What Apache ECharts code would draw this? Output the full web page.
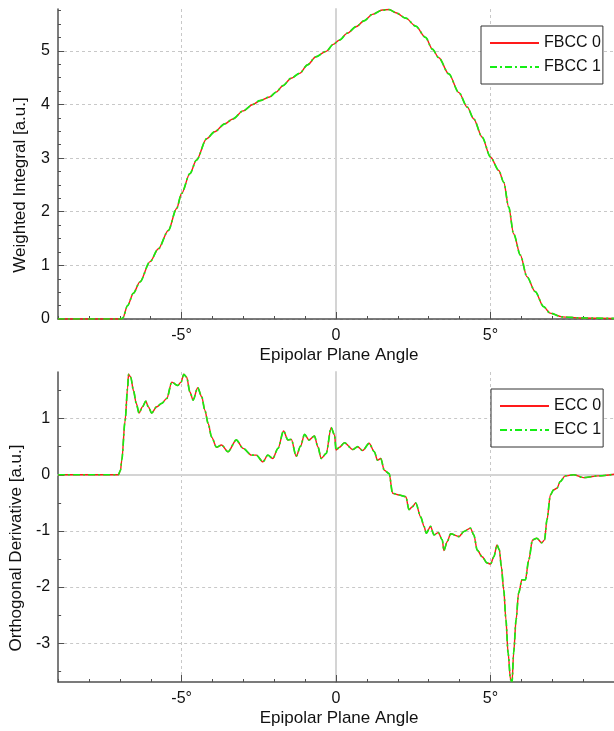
<!DOCTYPE html>
<html><head><meta charset="utf-8">
<script src="https://cdn.jsdelivr.net/npm/echarts@6/dist/echarts.min.js"></script>
<style>html,body{margin:0;padding:0;background:#fff}#c{width:614px;height:731px}</style>
</head><body><div id="c"></div>
<script>
// ---- Data ----
const angleFBCC = [-9, -7.5, -6.95, -6.9, -6.75, -6.56, -6.35, -6.02, -5.75, -5.43, -5.16, -5.0, -4.73, -4.52, -4.19, -3.93, -3.6, -3.34, -3.01, -2.69, -2.47, -2.15, -1.94, -1.72, -1.45, -1.18, -0.92, -0.65, -0.32, -0.09, 0.11, 0.37, 0.65, 0.91, 1.18, 1.5, 1.72, 1.94, 2.26, 2.58, 2.9, 3.12, 3.33, 3.65, 3.98, 4.25, 4.46, 4.73, 5.0, 5.27, 5.43, 5.59, 5.75, 5.97, 6.18, 6.45, 6.72, 6.93, 7.31, 7.95, 9];
const fbcc0 = [0, 0, 0, 0.02, 0.25, 0.48, 0.69, 1.07, 1.31, 1.65, 2.06, 2.34, 2.71, 2.96, 3.36, 3.49, 3.64, 3.73, 3.88, 4.0, 4.07, 4.14, 4.23, 4.35, 4.49, 4.58, 4.74, 4.89, 4.99, 5.12, 5.2, 5.33, 5.45, 5.56, 5.68, 5.76, 5.77, 5.71, 5.61, 5.46, 5.25, 5.03, 4.87, 4.57, 4.22, 3.95, 3.73, 3.39, 3.02, 2.77, 2.55, 2.09, 1.59, 1.19, 0.79, 0.51, 0.23, 0.11, 0.04, 0.02, 0.01];
const fbcc1 = [0, 0, 0, 0.02, 0.25, 0.48, 0.69, 1.07, 1.31, 1.65, 2.06, 2.34, 2.71, 2.96, 3.36, 3.49, 3.64, 3.73, 3.88, 4.0, 4.07, 4.14, 4.23, 4.35, 4.49, 4.58, 4.74, 4.89, 4.99, 5.12, 5.2, 5.33, 5.45, 5.56, 5.68, 5.76, 5.77, 5.71, 5.61, 5.46, 5.25, 5.03, 4.87, 4.57, 4.22, 3.95, 3.73, 3.39, 3.02, 2.77, 2.55, 2.09, 1.59, 1.19, 0.79, 0.51, 0.23, 0.11, 0.04, 0.02, 0.01];

const angleECC = [-9, -7.05, -6.98, -6.94, -6.83, -6.75, -6.72, -6.68, -6.65, -6.56, -6.47, -6.38, -6.27, -6.16, -6.08, -5.97, -5.81, -5.65, -5.48, -5.32, -5.13, -5.02, -4.93, -4.84, -4.73, -4.63, -4.48, -4.35, -4.25, -4.14, -4.03, -3.87, -3.71, -3.5, -3.23, -3.01, -2.74, -2.58, -2.37, -2.21, -2.05, -1.88, -1.7, -1.56, -1.45, -1.29, -1.15, -1.02, -0.88, -0.7, -0.59, -0.48, -0.32, -0.16, -0.05, 0.0, 0.11, 0.27, 0.54, 0.7, 0.86, 1.07, 1.24, 1.34, 1.45, 1.56, 1.72, 1.83, 2.04, 2.26, 2.36, 2.47, 2.58, 2.74, 2.85, 2.92, 3.06, 3.17, 3.31, 3.44, 3.49, 3.6, 3.71, 3.98, 4.14, 4.35, 4.46, 4.57, 4.73, 4.89, 5.0, 5.11, 5.21, 5.29, 5.35, 5.43, 5.5, 5.57, 5.65, 5.7, 5.75, 5.83, 5.91, 6.02, 6.13, 6.24, 6.36, 6.5, 6.66, 6.75, 6.83, 6.94, 7.04, 7.15, 7.26, 7.42, 7.69, 8.01, 8.49, 9];
const ecc0 = [0, 0, 0.08, 0.26, 0.97, 1.55, 1.79, 1.76, 1.74, 1.5, 1.27, 1.1, 1.21, 1.31, 1.21, 1.1, 1.21, 1.27, 1.36, 1.65, 1.59, 1.65, 1.79, 1.74, 1.47, 1.33, 1.55, 1.39, 1.15, 0.91, 0.67, 0.49, 0.53, 0.41, 0.62, 0.47, 0.35, 0.35, 0.23, 0.35, 0.29, 0.47, 0.78, 0.62, 0.63, 0.33, 0.51, 0.72, 0.62, 0.69, 0.5, 0.29, 0.38, 0.84, 0.71, 0.44, 0.49, 0.57, 0.45, 0.5, 0.43, 0.56, 0.41, 0.26, 0.29, 0.08, 0.02, -0.33, -0.36, -0.39, -0.62, -0.57, -0.5, -0.75, -0.92, -1.04, -0.92, -1.07, -1.03, -1.16, -1.35, -1.19, -1.05, -1.1, -1.01, -0.95, -1.07, -1.34, -1.46, -1.57, -1.59, -1.46, -1.25, -1.34, -1.63, -2.05, -2.58, -3.17, -3.65, -3.68, -3.17, -2.58, -2.11, -1.87, -1.87, -1.52, -1.16, -1.13, -1.21, -1.16, -0.8, -0.36, -0.27, -0.24, -0.12, -0.02, 0.0, -0.05, -0.02, 0.01];
const ecc1 = [0, 0, 0.08, 0.26, 0.97, 1.55, 1.79, 1.76, 1.74, 1.5, 1.27, 1.1, 1.21, 1.31, 1.21, 1.1, 1.21, 1.27, 1.36, 1.65, 1.59, 1.65, 1.79, 1.74, 1.47, 1.33, 1.55, 1.39, 1.15, 0.91, 0.67, 0.49, 0.53, 0.41, 0.62, 0.47, 0.35, 0.35, 0.23, 0.35, 0.29, 0.47, 0.78, 0.62, 0.63, 0.33, 0.51, 0.72, 0.62, 0.69, 0.5, 0.29, 0.38, 0.84, 0.71, 0.44, 0.49, 0.57, 0.45, 0.5, 0.43, 0.56, 0.41, 0.26, 0.29, 0.08, 0.02, -0.33, -0.36, -0.39, -0.62, -0.57, -0.5, -0.75, -0.92, -1.04, -0.92, -1.07, -1.03, -1.16, -1.35, -1.19, -1.05, -1.1, -1.01, -0.95, -1.07, -1.34, -1.46, -1.57, -1.59, -1.46, -1.25, -1.34, -1.63, -2.05, -2.58, -3.17, -3.65, -3.68, -3.17, -2.58, -2.11, -1.87, -1.87, -1.52, -1.16, -1.13, -1.21, -1.16, -0.8, -0.36, -0.27, -0.24, -0.12, -0.02, 0.0, -0.05, -0.02, 0.01];

// ---- Ticks ----
const xTickValues = [-5, 0, 5];
const xTickLabels = ['-5°', '0', '5°'];
const xMinorTicks = [-9, -8, -7, -6, -5, -4, -3, -2, -1, 0, 1, 2, 3, 4, 5, 6, 7, 8, 9];
const topYTicks = [0, 1, 2, 3, 4, 5];
const topYMinor = [0.25, 0.5, 0.75, 1.25, 1.5, 1.75, 2.25, 2.5, 2.75, 3.25, 3.5, 3.75, 4.25, 4.5, 4.75, 5.25, 5.5, 5.75];
const botYTicks = [-3, -2, -1, 0, 1];
const botYMinor = [-3.5, -2.5, -1.5, -0.5, 0.5, 1.5];
const xRange = [-9, 9];
const topYRange = [0, 5.78];
const botYRange = [-3.69, 1.83];

const FONT = 'Liberation Sans, Arial, sans-serif';
const AX = '#505050';
const GRIDC = '#c8c8c8';
const ZEROC = '#d4d4d4';

function zip(xs, ys) { return xs.map((x, i) => [x, ys[i]]); }

function xAxesFor(gridIndex, yZeroIdx, withZeroLine) {
  const axes = [
    { // main: line + minor ticks
      type: 'value', gridIndex, min: xRange[0], max: xRange[1], position: 'bottom',
      axisLine: { show: true, onZero: false, lineStyle: { color: AX, width: 1.5 } },
      axisTick: { show: true, inside: true, length: 3, customValues: xMinorTicks, lineStyle: { color: AX, width: 1 } },
      axisLabel: { show: false }, splitLine: { show: false },
      name: 'Epipolar Plane Angle', nameLocation: 'middle', nameGap: 28,
      nameTextStyle: { fontSize: 17, fontFamily: FONT, color: '#111', padding: [0, 0, 0, 6] }
    },
    { // overlay: major ticks, labels, grid lines
      type: 'value', gridIndex, min: xRange[0], max: xRange[1], position: 'bottom',
      axisLine: { show: false, onZero: false },
      axisTick: { show: true, inside: true, length: 7, customValues: xTickValues, lineStyle: { color: AX, width: 1 } },
      axisLabel: { show: true, customValues: xTickValues, margin: 9, fontSize: 16, fontFamily: FONT, color: '#111',
        formatter: v => xTickLabels[xTickValues.indexOf(v)] },
      splitLine: { show: true, lineStyle: { color: GRIDC, type: [3, 3], width: 1 } }
    }
  ];
  if (withZeroLine) {
    axes.push({ // horizontal zero line
      type: 'value', gridIndex, min: xRange[0], max: xRange[1], position: 'bottom',
      axisLine: { show: true, onZero: true, onZeroAxisIndex: yZeroIdx, lineStyle: { color: ZEROC, width: 2 } },
      axisTick: { show: false }, axisLabel: { show: false }, splitLine: { show: false }
    });
  }
  return axes;
}

function yAxesFor(gridIndex, range, ticks, minor, name, xZeroIdx) {
  return [
    {
      type: 'value', gridIndex, min: range[0], max: range[1], position: 'left',
      axisLine: { show: true, onZero: false, lineStyle: { color: AX, width: 1.5 } },
      axisTick: { show: true, inside: true, length: 6, customValues: ticks, lineStyle: { color: AX, width: 1 } },
      axisLabel: { show: true, customValues: ticks, margin: 8, fontSize: 16, fontFamily: FONT, color: '#111' },
      splitLine: { show: true, lineStyle: { color: GRIDC, type: [3, 3], width: 1 } },
      name, nameLocation: 'middle', nameGap: 29,
      nameTextStyle: { fontSize: 17, fontFamily: FONT, color: '#111', padding: [0, 42, 0, 0] }
    },
    {
      type: 'value', gridIndex, min: range[0], max: range[1], position: 'left',
      axisLine: { show: false, onZero: false },
      axisTick: { show: true, inside: true, length: 3, customValues: minor, lineStyle: { color: AX, width: 1 } },
      axisLabel: { show: false }, splitLine: { show: false }
    },
    { // vertical zero line
      type: 'value', gridIndex, min: range[0], max: range[1], position: 'left',
      axisLine: { show: true, onZero: true, onZeroAxisIndex: xZeroIdx, lineStyle: { color: ZEROC, width: 2 } },
      axisTick: { show: false }, axisLabel: { show: false }, splitLine: { show: false }
    }
  ];
}

const xAxis = [].concat(xAxesFor(0, 0, false), xAxesFor(1, 3, true));
const yAxis = [].concat(
  yAxesFor(0, topYRange, topYTicks, topYMinor, 'Weighted Integral [a.u.]', 0),
  yAxesFor(1, botYRange, botYTicks, botYMinor, 'Orthogonal Derivative [a.u.]', 2)
);

const redStyle = { color: '#ff1a1a', width: 1.4, type: 'solid' };
const greenStyle = { color: '#14ee14', width: 1.7, type: [7, 3, 2, 3] };

function lineSeries(name, xi, yi, xs, ys, style, z) {
  return {
    type: 'line', name, xAxisIndex: xi, yAxisIndex: yi, data: zip(xs, ys),
    symbol: 'none', showSymbol: false, smooth: 0.3, smoothMonotone: 'x', animation: false, z,
    lineStyle: style, itemStyle: { color: style.color }
  };
}

const legendBase = {
  orient: 'vertical', itemWidth: 49, itemHeight: 14, itemGap: 8,
  padding: [9, 2, 9, 8], borderColor: '#333', borderWidth: 1, backgroundColor: '#fff',
  itemStyle: { color: 'rgba(0,0,0,0)', borderWidth: 0, opacity: 0 },
  textStyle: { fontSize: 16, fontFamily: FONT, color: '#111' }
};

const option = {
  backgroundColor: '#fff',
  animation: false,
  grid: [
    { left: 58, top: 9, width: 556, height: 310 },
    { left: 58, top: 372, width: 556, height: 310 }
  ],
  xAxis, yAxis,
  legend: [
    Object.assign({}, legendBase, { left: 481, top: 26, data: ['FBCC 0', 'FBCC 1'] }),
    Object.assign({}, legendBase, { left: 491, top: 389, data: ['ECC 0', 'ECC 1'] })
  ],
  series: [
    lineSeries('FBCC 0', 0, 0, angleFBCC, fbcc0, redStyle, 3),
    lineSeries('FBCC 1', 0, 0, angleFBCC, fbcc1, greenStyle, 4),
    lineSeries('ECC 0', 2, 3, angleECC, ecc0, redStyle, 3),
    lineSeries('ECC 1', 2, 3, angleECC, ecc1, greenStyle, 4)
  ]
};

const chart = echarts.init(document.getElementById('c'), null, { renderer: 'canvas' });
chart.setOption(option);
</script>
</body></html>
